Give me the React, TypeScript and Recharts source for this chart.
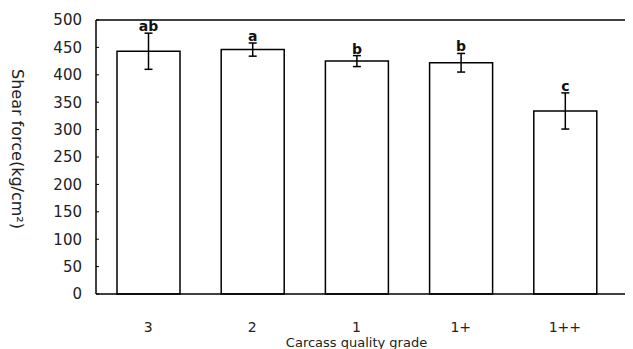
import { BarChart, Bar, XAxis, YAxis, ErrorBar, LabelList, ReferenceLine } from 'recharts'

const GRADES = ['3', '2', '1', '1+', '1++']
const SHEAR = [443, 446, 425, 422, 334]
const SHEAR_SD = [33, 12, 10, 17, 33]
const LETTERS = ['ab', 'a', 'b', 'b', 'c']
const Y_TICKS = [0, 50, 100, 150, 200, 250, 300, 350, 400, 450, 500]

const FONT = '"DejaVu Sans", Arial, sans-serif'

const data = GRADES.map((g, i) => ({
  grade: g,
  shear: SHEAR[i],
  sd: SHEAR_SD[i],
  sig: LETTERS[i],
}))

function SigLabel(props: any) {
  const { x, y, width, height, value, index } = props
  const errPx = (SHEAR_SD[index] * Number(height)) / SHEAR[index]
  const top = Number(y) - errPx
  return (
    <text
      x={Number(x) + Number(width) / 2}
      y={top - 2}
      textAnchor="middle"
      fontSize={14}
      fontWeight={600}
      fontFamily={FONT}
      fill="#111"
    >
      {value}
    </text>
  )
}

export default function App() {
  return (
    <BarChart
      width={625}
      height={341}
      data={data}
      margin={{ top: 12, right: 0, bottom: 0, left: 0 }}
      barSize={63}
    >
      <XAxis
        dataKey="grade"
        padding={{ left: 0, right: 16 }}
        axisLine={{ stroke: '#000', strokeWidth: 1.5 }}
        tickLine={false}
        tickMargin={22}
        height={55}
        tick={{ fill: '#222', fontSize: 14, fontFamily: FONT }}
        label={({ viewBox }: any) => (
          <text
            x={viewBox.x + (viewBox.width - 16) / 2}
            y={339}
            textAnchor="middle"
            fontSize={13}
            fontFamily={FONT}
            fill="#222"
          >
            Carcass quality grade
          </text>
        )}
      />
      <YAxis
        width={88}
        domain={[0, 500]}
        ticks={Y_TICKS}
        interval={0}
        axisLine={{ stroke: '#000', strokeWidth: 1.5 }}
        tickLine={{ stroke: '#000' }}
        tickSize={-3}
        tickMargin={17}
        tick={{ fill: '#222', fontSize: 15, fontFamily: FONT }}
        label={({ viewBox }: any) => {
          const cy = viewBox.y + viewBox.height / 2 - 8
          return (
            <text
              x={9}
              y={cy}
              transform={`rotate(90, 9, ${cy})`}
              textAnchor="middle"
              dominantBaseline="central"
              fontSize={16}
              fontFamily={FONT}
              fill="#222"
            >
              Shear force(kg/cm²)
            </text>
          )
        }}
      />
      <ReferenceLine y={500} stroke="#000" strokeWidth={1.5} />
      <Bar dataKey="shear" fill="#fff" stroke="#000" strokeWidth={1.5} isAnimationActive={false}>
        <ErrorBar dataKey="sd" width={4} stroke="#000" strokeWidth={1.5} direction="y" />
        <LabelList dataKey="sig" content={SigLabel} />
      </Bar>
    </BarChart>
  )
}
